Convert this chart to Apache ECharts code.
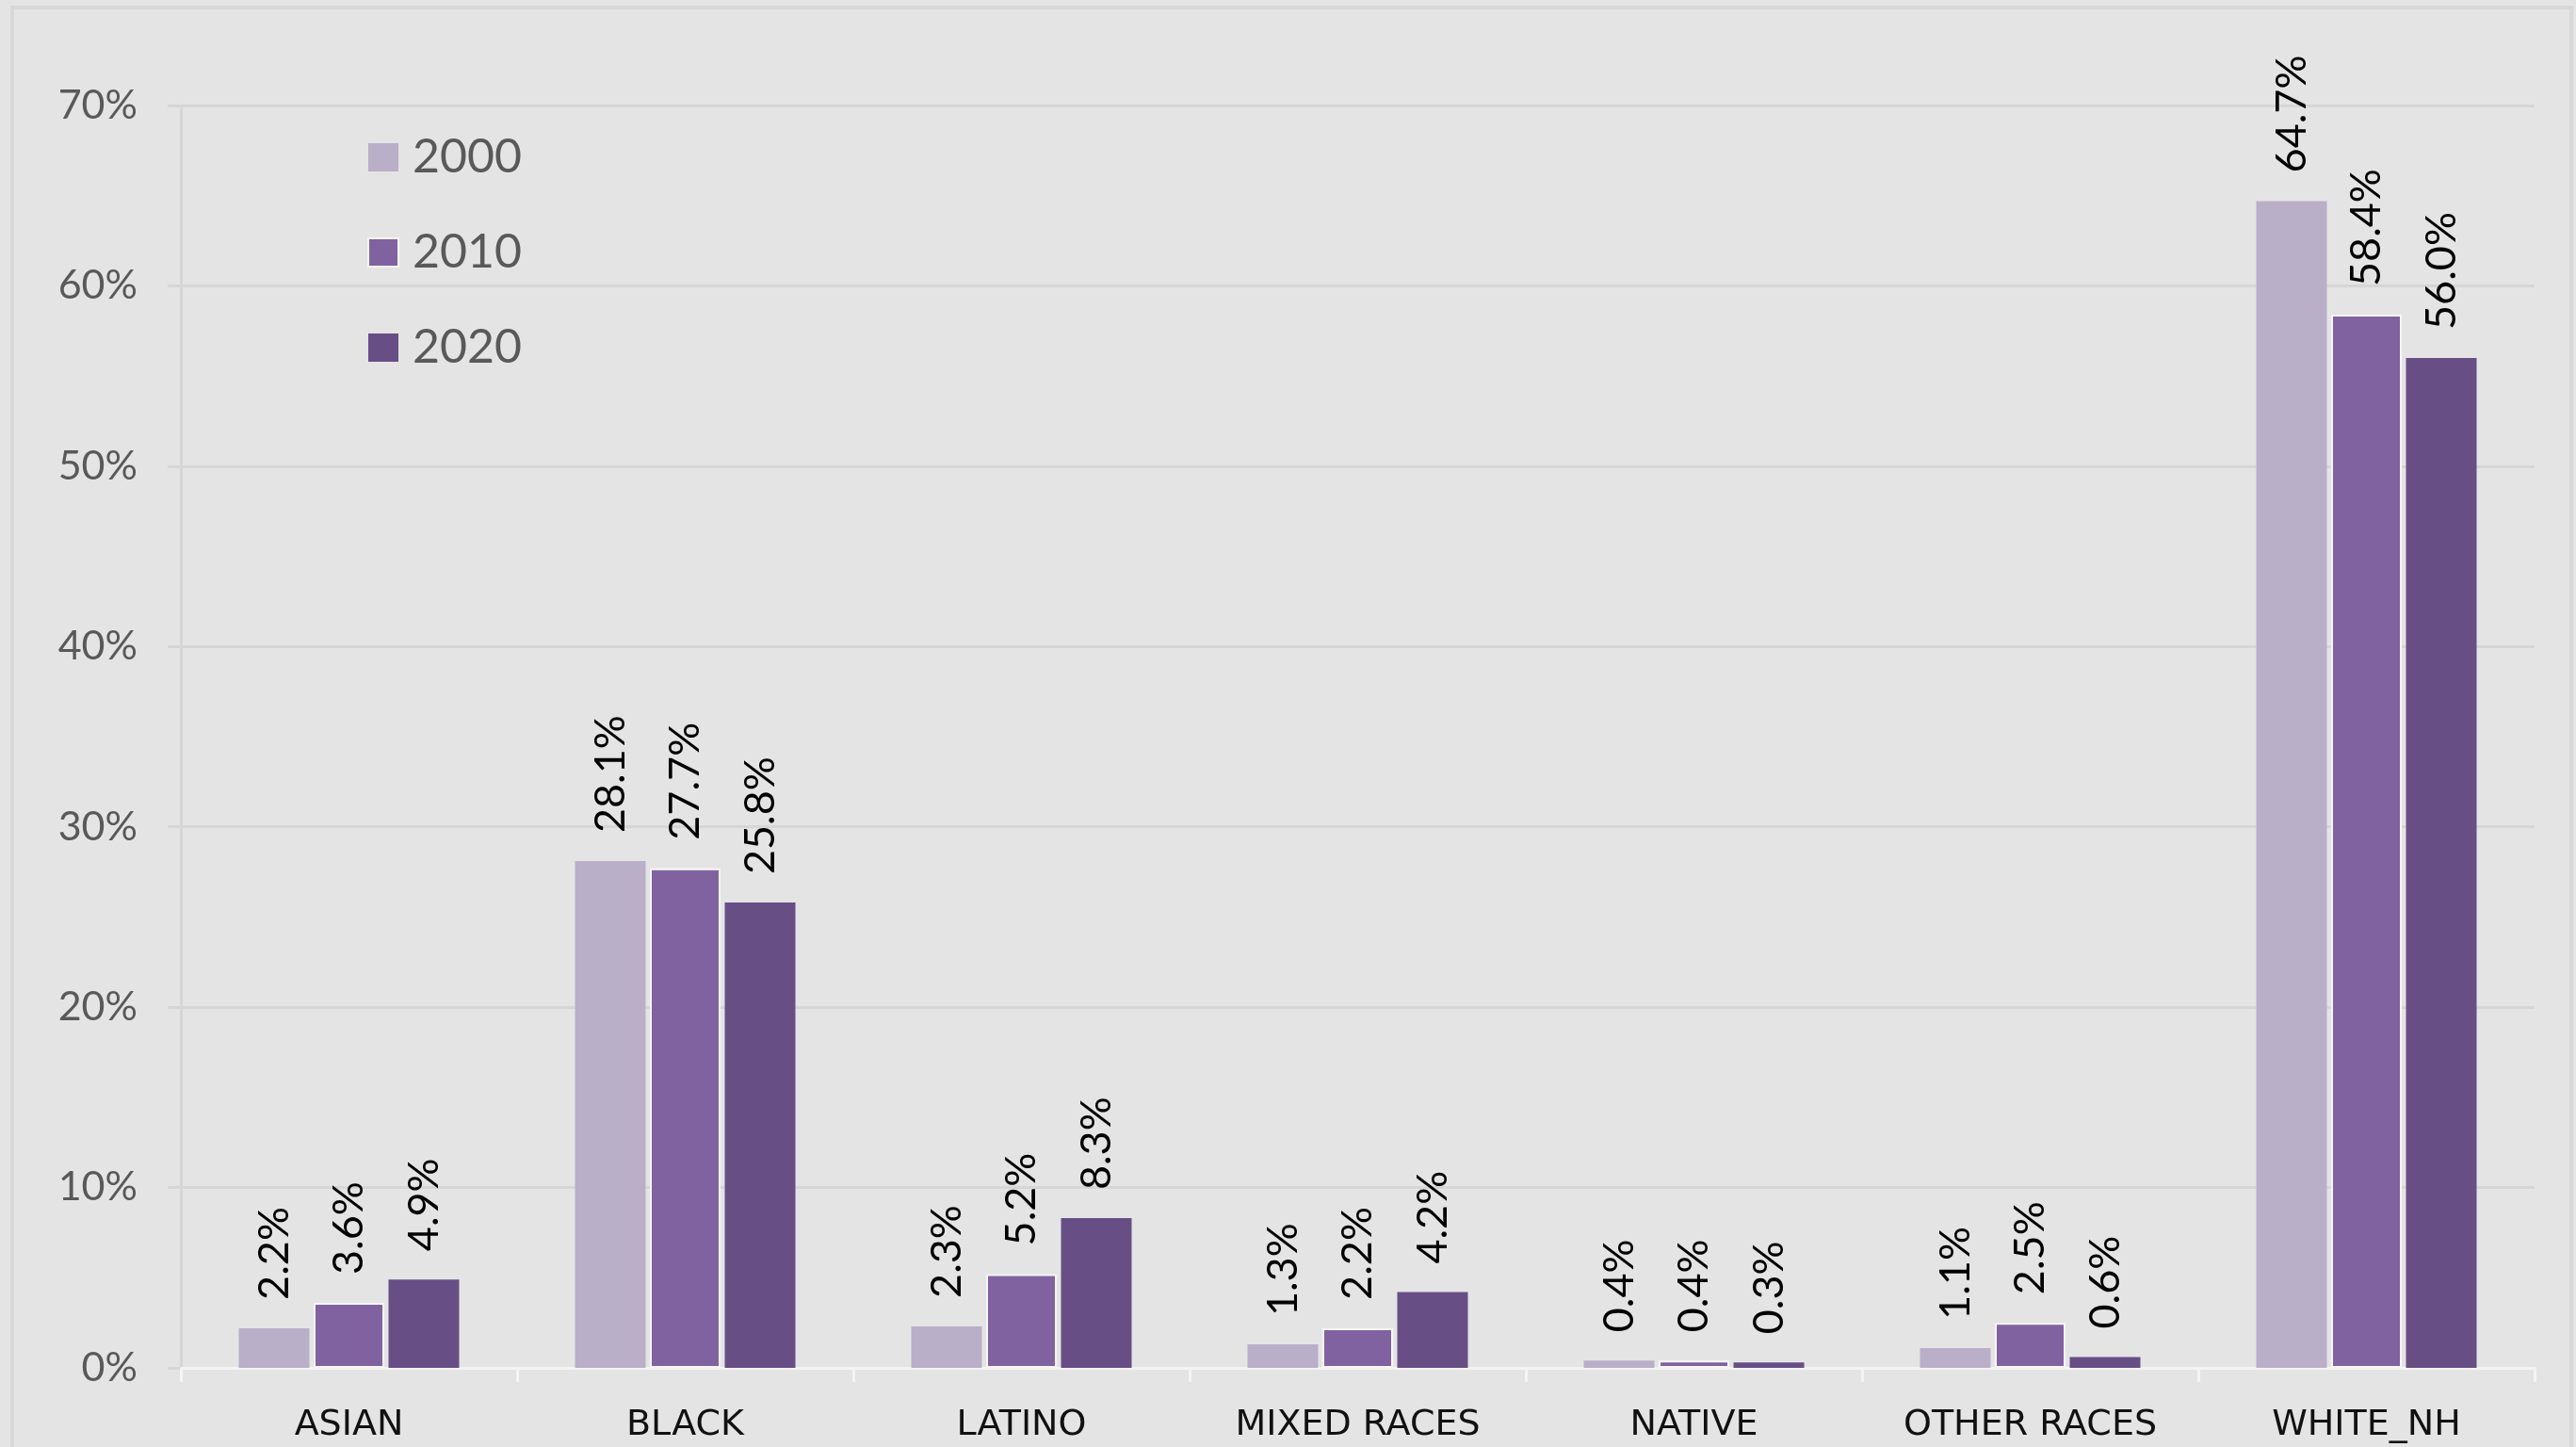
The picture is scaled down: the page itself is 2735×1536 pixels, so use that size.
<!DOCTYPE html>
<html>
<head>
<meta charset="utf-8">
<script src="https://cdn.jsdelivr.net/npm/echarts@6/dist/echarts.min.js"></script>
<style>
html,body{margin:0;padding:0;background:#e4e4e4;}
#chart{width:2735px;height:1536px;}
</style>
</head>
<body>
<div id="chart"></div>
<script>
const categories = ['ASIAN', 'BLACK', 'LATINO', 'MIXED RACES', 'NATIVE', 'OTHER RACES', 'WHITE_NH'];
const years = ['2000', '2010', '2020'];
const v2000 = [2.2, 28.1, 2.3, 1.3, 0.4, 1.1, 64.7];
const v2010 = [3.6, 27.7, 5.2, 2.2, 0.4, 2.5, 58.4];
const v2020 = [4.9, 25.8, 8.3, 4.2, 0.3, 0.6, 56.0];
const colors = ['#b9afc8', '#8062a0', '#674f86'];

const chart = echarts.init(document.getElementById('chart'), null, {renderer: 'canvas'});

function makeSeries(name, data, color, border) {
  return {
    name: name,
    type: 'bar',
    data: data,
    barWidth: 75,
    barGap: '6%',
    itemStyle: {color: color, borderColor: border ? '#f6f6f6' : color, borderWidth: border ? 2 : 0},
    label: {
      show: true,
      position: 'top',
      rotate: 90,
      align: 'left',
      verticalAlign: 'middle',
      distance: 30,
      fontFamily: 'Lato',
      fontSize: 45,
      color: '#000000',
      formatter: p => p.value.toFixed(1) + '%'
    }
  };
}

chart.setOption({
  backgroundColor: '#e4e4e4',
  animation: false,
  graphic: [{
    type: 'rect',
    shape: {x: 13, y: 8, width: 2717, height: 1540},
    style: {fill: 'none', stroke: '#d8d8d8', lineWidth: 4},
    silent: true
  }],
  grid: {left: 192, right: 44, top: 112, bottom: 84, containLabel: false},
  legend: {
    orient: 'vertical',
    left: 390,
    top: 142,
    padding: 0,
    itemWidth: 32,
    itemHeight: 30,
    itemGap: 51,
    icon: 'rect',
    data: years,
    textStyle: {fontFamily: 'Lato', fontSize: 50, lineHeight: 50, color: '#595959', padding: [0, 0, 0, 10]}
  },
  xAxis: {
    type: 'category',
    data: categories,
    axisLine: {show: true, lineStyle: {color: '#f4f4f4', width: 3}},
    axisTick: {show: true, length: 15, lineStyle: {color: '#f4f4f4', width: 3}},
    axisLabel: {margin: 42, fontFamily: 'DejaVu Sans', fontSize: 38, color: '#111111'},
    splitLine: {show: false}
  },
  yAxis: {
    type: 'value',
    min: 0,
    max: 70,
    interval: 10,
    axisLine: {show: true, lineStyle: {color: '#d6d6d6', width: 3}},
    axisTick: {show: true, length: 14, lineStyle: {color: '#d6d6d6', width: 3}},
    axisLabel: {formatter: '{value}%', margin: 46, fontFamily: 'Lato', fontSize: 43, color: '#595959'},
    splitLine: {show: true, lineStyle: {color: '#d6d6d6', width: 3}}
  },
  series: [
    makeSeries(years[0], v2000, colors[0], false),
    makeSeries(years[1], v2010, colors[1], true),
    makeSeries(years[2], v2020, colors[2], false)
  ]
});
</script>
</body>
</html>
